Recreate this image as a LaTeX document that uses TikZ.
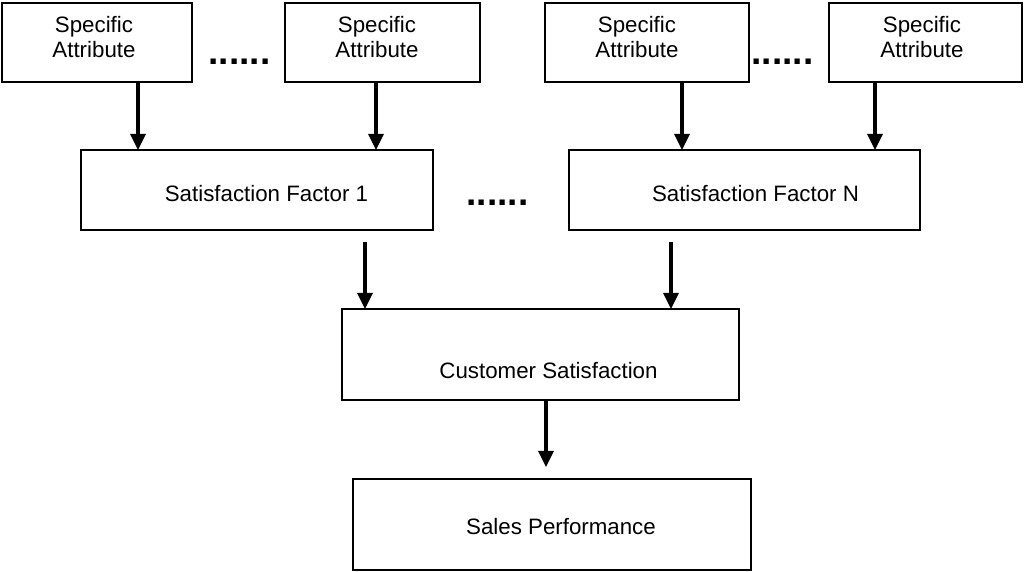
\documentclass[tikz,border=0pt]{standalone}
\usepackage{fontspec}
\setmainfont{Liberation Sans}
\usetikzlibrary{arrows.meta}
\begin{document}
\begin{tikzpicture}[x=0.5pt,y=-0.5pt,
  box/.style={draw=black,line width=1pt,rectangle,inner sep=0pt,outer sep=0pt},
  lbl/.style={inner sep=0pt,outer sep=0pt,align=center,font=\fontsize{11.15pt}{12.6pt}\selectfont},
  dots/.style={inner sep=0pt,outer sep=0pt,anchor=base,font=\fontsize{18.5pt}{20pt}\selectfont\bfseries},
  arr/.style={line width=1.6pt,-{Triangle[length=8pt,width=7.5pt]}}]
\useasboundingbox[fill=white] (0,0) rectangle (1024,572);
% boxes
\node[box,minimum width=95pt,minimum height=39.5pt] (sa1) at (97,42.5) {};
\node[box,minimum width=97.5pt,minimum height=39.5pt] (sa2) at (382.5,42.5) {};
\node[box,minimum width=102pt,minimum height=39.5pt] (sa3) at (647,42.5) {};
\node[box,minimum width=96.5pt,minimum height=39.5pt] (sa4) at (925.5,42.5) {};
\node[box,minimum width=176pt,minimum height=40pt] (sf1) at (257,190) {};
\node[box,minimum width=175.5pt,minimum height=40pt] (sfn) at (744.5,190) {};
\node[box,minimum width=198.5pt,minimum height=45.5pt] (cs) at (540.5,354.5) {};
\node[box,minimum width=199pt,minimum height=45.5pt] (sp) at (552,524.5) {};
% labels
\node[lbl] (t1) at (94,37) {Specific\\Attribute};
\node[lbl] (t2) at (377,37) {Specific\\Attribute};
\node[lbl] (t3) at (637,37) {Specific\\Attribute};
\node[lbl] (t4) at (922,37) {Specific\\Attribute};
\node[lbl,anchor=base] (t5) at (266.5,202) {Satisfaction Factor 1};
\node[lbl,anchor=base] (t6) at (755.5,202) {Satisfaction Factor N};
\node[lbl,anchor=base] (t7) at (548.5,379) {Customer Satisfaction};
\node[lbl,anchor=base] (t8) at (561,535) {Sales Performance};
% dots
\node[dots] (d1) at (239.5,65) {......};
\node[dots] (d2) at (782.5,65) {......};
\node[dots] (d3) at (497.5,206) {......};
% arrow x positions
\coordinate (x1) at (138,0);
\coordinate (x2) at (376,0);
\coordinate (x3) at (682,0);
\coordinate (x4) at (875,0);
\coordinate (x5) at (365,0);
\coordinate (x6) at (671,0);
\coordinate (x7) at (546,0);
% arrows
\draw[arr] (sa1.south -| x1) -- (sf1.north -| x1);
\draw[arr] (sa2.south -| x2) -- (sf1.north -| x2);
\draw[arr] (sa3.south -| x3) -- (sfn.north -| x3);
\draw[arr] (sa4.south -| x4) -- (sfn.north -| x4);
\draw[arr] ([yshift=-6pt]sf1.south -| x5) -- (cs.north -| x5);
\draw[arr] ([yshift=-6pt]sfn.south -| x6) -- (cs.north -| x6);
\draw[arr] (cs.south -| x7) -- ([yshift=6pt]sp.north -| x7);
\end{tikzpicture}
\end{document}
